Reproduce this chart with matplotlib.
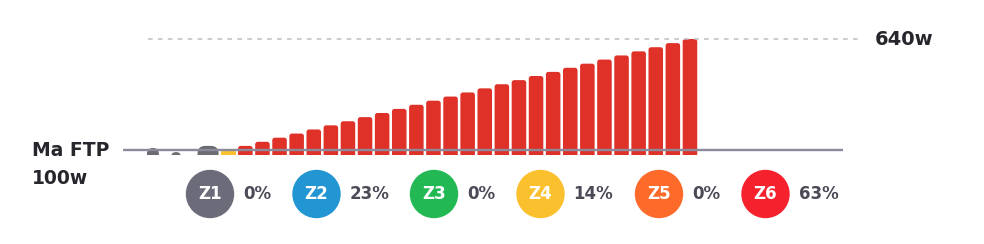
import matplotlib.pyplot as plt
from matplotlib.patches import FancyBboxPatch, Circle, BoxStyle
from matplotlib.transforms import blended_transform_factory
import numpy as np

# données (temps en "pas" de rampe, puissance en watts)
ftp = 100
max_watts = 640

warmup_start = [1.40, 2.81, 4.36, 5.73]
warmup_len = [0.70, 0.58, 1.23, 0.88]
warmup_watts = [110, 90, 120, 95]
warmup_zone = ['Z1', 'Z1', 'Z1', 'Z4']

ramp_start = 6.73
ramp_watts = [120, 140, 160, 180, 200, 220, 240, 260, 280, 300, 320, 340, 360,
              380, 400, 420, 440, 460, 480, 500, 520, 540, 560, 580, 600, 620, 640]

zones = ['Z1', 'Z2', 'Z3', 'Z4', 'Z5', 'Z6']
zone_pct = [0, 23, 0, 14, 0, 63]

zone_colors = {'Z1': '#6b6b7a', 'Z2': '#2196d3', 'Z3': '#22b955',
               'Z4': '#fbc02d', 'Z5': '#fd6a2a', 'Z6': '#f5222d'}
bar_colors = {'Z1': '#6b6b73', 'Z4': '#fbc22d', 'Z6': '#e03128'}

W, H = 984, 244
fig = plt.figure(figsize=(W / 100, H / 100), dpi=100)

# axe principal
ax = fig.add_axes([123 / W, (H - 155) / H, 720 / W, 125 / H])
xmax = 720 / 17.1
ax.set_xlim(0, xmax)
ax.set_ylim(75.7, 683.8)
ax.axis('off')

# rapport watts / unité x pour des coins ronds circulaires
asp = ((683.8 - 75.7) / 125) / (xmax / 720)


def rounded_bar(x, w, h, color, r):
    p = FancyBboxPatch((x, 0), w, h,
                       boxstyle=BoxStyle.Round(pad=0, rounding_size=r),
                       mutation_aspect=asp, facecolor=color, edgecolor='none')
    ax.add_patch(p)


for s, l, wt, z in zip(warmup_start, warmup_len, warmup_watts, warmup_zone):
    r = min(l / 2, 0.45) if z == 'Z1' else 0.08
    rounded_bar(s, l, wt, bar_colors[z], r)

for i, wt in enumerate(ramp_watts):
    rounded_bar(ramp_start + i, 0.85, wt, bar_colors['Z6'], 0.15)

# ligne FTP
ax.plot([0, xmax], [ftp, ftp], color='#8a8a9a', lw=1.7, zorder=5,
        solid_capstyle='butt')

# ligne max en pointillés
ax.axhline(max_watts, xmin=(148 - 123) / 720, xmax=(863 - 123) / 720,
           color='#bcbcc4', lw=1.1, ls=(0, (3, 3.5)), clip_on=False)

trans = blended_transform_factory(ax.transAxes, ax.transData)
font = dict(family='DejaVu Sans', fontweight='bold', color='#26262c')
ax.text((875 - 123) / 720, max_watts, f'{max_watts}w', transform=trans,
        va='center', ha='left', fontsize=14, **font)
ax.text((32 - 123) / 720, ftp, 'Ma FTP', transform=trans,
        va='center', ha='left', fontsize=13.5, **font)
ax.annotate(f'{ftp}w', xy=((32 - 123) / 720, ftp), xycoords=trans,
            xytext=(0, -28), textcoords='offset pixels',
            va='center', ha='left', fontsize=13.5, **font)

# légende des zones
lg = fig.add_axes([0, 0, 1, 1], zorder=-1)
lg.set_xlim(0, W)
lg.set_ylim(H, 0)
lg.axis('off')

centers = [210, 316.5, 434, 540.5, 659, 765.5]
for cx, z, p in zip(centers, zones, zone_pct):
    lg.add_patch(Circle((cx, 194), 23.5, color=zone_colors[z]))
    lg.text(cx, 194, z, ha='center', va='center', fontsize=12,
            fontweight='bold', color='white', family='DejaVu Sans')
    lg.text(cx + 33, 194, f'{p}%', ha='left', va='center', fontsize=12,
            fontweight='bold', color='#4b4b58', family='DejaVu Sans')

fig.savefig('out.png', dpi=100)
